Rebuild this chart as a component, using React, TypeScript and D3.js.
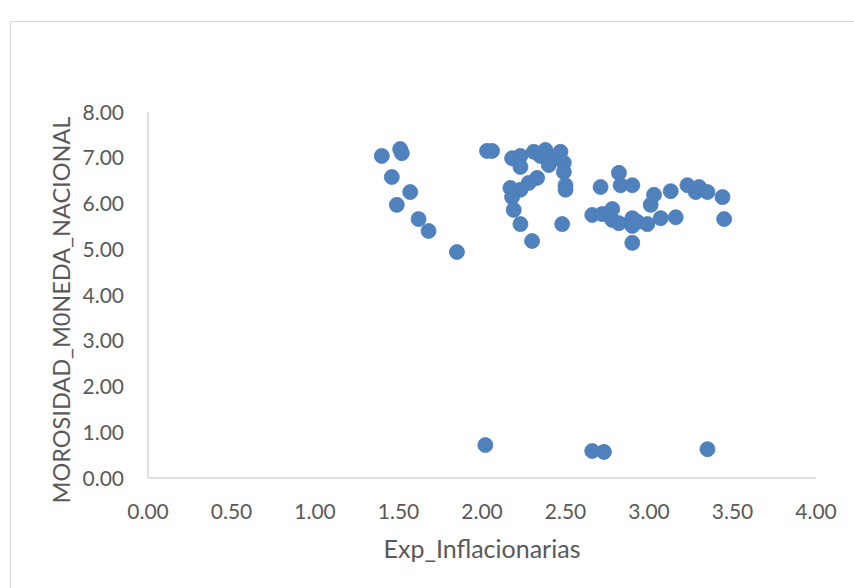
import React from "react";
import * as d3 from "d3";

const xValues: number[] = [
  1.40, 1.51, 1.52, 1.46, 1.57, 1.49, 1.62, 1.68, 1.85, 2.03, 2.06, 2.02,
  2.18, 2.23, 2.23, 2.31, 2.35, 2.38, 2.41, 2.40, 2.47, 2.49, 2.49, 2.50,
  2.50, 2.33, 2.28, 2.23, 2.17, 2.18, 2.19, 2.23, 2.30, 2.48, 2.82, 2.71,
  2.83, 2.90, 2.66, 2.72, 2.78, 2.78, 2.82, 2.90, 2.90, 2.93, 2.99, 2.90,
  3.01, 3.03, 3.07, 3.13, 3.16, 3.23, 3.28, 3.30, 3.35, 3.44, 3.45, 2.66,
  2.73, 3.35,
];
const yValues: number[] = [
  7.04, 7.19, 7.10, 6.58, 6.25, 5.97, 5.66, 5.40, 4.94, 7.15, 7.15, 0.72,
  6.99, 7.04, 6.80, 7.13, 7.04, 7.17, 6.99, 6.84, 7.13, 6.89, 6.69, 6.40,
  6.30, 6.56, 6.45, 6.30, 6.34, 6.14, 5.86, 5.55, 5.18, 5.55, 6.67, 6.36,
  6.40, 6.40, 5.75, 5.77, 5.88, 5.64, 5.57, 5.68, 5.51, 5.60, 5.55, 5.14,
  5.97, 6.19, 5.68, 6.27, 5.70, 6.40, 6.25, 6.36, 6.25, 6.14, 5.66, 0.59,
  0.57, 0.63,
];
const xTicks: number[] = [0, 0.5, 1, 1.5, 2, 2.5, 3, 3.5, 4];
const yTicks: number[] = [0, 1, 2, 3, 4, 5, 6, 7, 8];
const xTitle = "Exp_Inflacionarias";
const yTitle = "MOROSIDAD_M0NEDA_NACIONAL";

const W = 854;
const H = 588;
const left = 148;
const right = 816;
const top = 112;
const bottom = 478;
const font = "Lato, 'Open Sans', sans-serif";
const textColor = "#595959";

export default function App() {
  const x = d3.scaleLinear().domain([0, 4]).range([left, right]);
  const y = d3.scaleLinear().domain([0, 8]).range([bottom, top]);
  const fmt = d3.format(".2f");
  const points = xValues.map((v, i) => ({ x: v, y: yValues[i] }));

  return (
    <svg
      width={W}
      height={H}
      style={{ position: "absolute", left: 0, top: 0, background: "#fff" }}
    >
      <rect x={0} y={0} width={W} height={H} fill="#fff" />
      <rect
        x={10.5}
        y={21.5}
        width={W + 20}
        height={H + 20}
        fill="#fff"
        stroke="#d9d9d9"
        strokeWidth={1}
      />
      <line x1={left} x2={left} y1={top} y2={bottom} stroke="#d9d9d9" strokeWidth={1.5} />
      <line x1={left} x2={right} y1={bottom} y2={bottom} stroke="#d9d9d9" strokeWidth={1.5} />
      {yTicks.map((t) => (
        <text
          key={"y" + t}
          x={124}
          y={y(t)}
          dy="0.36em"
          textAnchor="end"
          fontFamily={font}
          fontSize={21}
          fill={textColor}
        >
          {fmt(t)}
        </text>
      ))}
      {xTicks.map((t) => (
        <text
          key={"x" + t}
          x={x(t)}
          y={511}
          dy="0.36em"
          textAnchor="middle"
          fontFamily={font}
          fontSize={21}
          fill={textColor}
        >
          {fmt(t)}
        </text>
      ))}
      <text
        x={(left + right) / 2}
        y={549}
        dy="0.36em"
        textAnchor="middle"
        fontFamily={font}
        fontSize={25}
        fill={textColor}
      >
        {xTitle}
      </text>
      <text
        transform={`translate(62,${(top + bottom) / 2 + 15}) rotate(-90)`}
        dy="0.36em"
        textAnchor="middle"
        fontFamily={font}
        fontSize={23.5}
        fill={textColor}
      >
        {yTitle}
      </text>
      {points.map((p, i) => (
        <circle
          key={i}
          cx={x(p.x)}
          cy={y(p.y)}
          r={7.5}
          fill="#4f81bd"
          stroke="#4a7ebb"
          strokeWidth={0.8}
        />
      ))}
    </svg>
  );
}
